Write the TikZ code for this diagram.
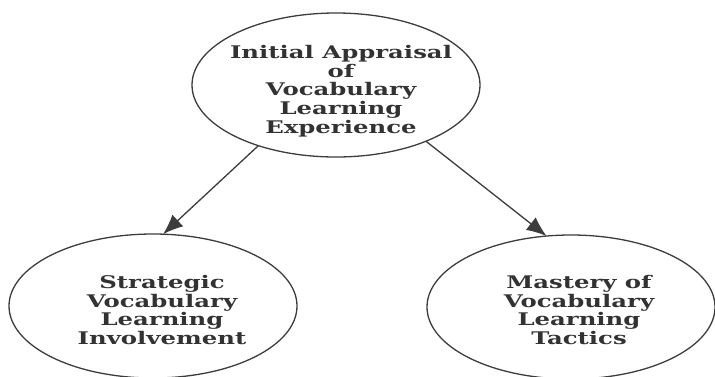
\documentclass[tikz,border=0pt]{standalone}
\usepackage{fontspec}
\setmainfont{DejaVu Serif}
\usetikzlibrary{shapes.geometric,arrows.meta}

\begin{document}
\begin{tikzpicture}
    [x=1pt,y=-1pt,>={Latex[length=20pt,width=16pt]}]

    \definecolor{lineC}{RGB}{60,60,60}
    \definecolor{textC}{RGB}{50,50,50}

    \tikzset{
        bubble/.style={draw=lineC,line width=1.3pt,ellipse,minimum width=288pt,minimum height=144pt,inner sep=0pt,outer sep=0pt},
        bubbletext/.style={align=center,text=textC,font=\bfseries\fontsize{17.4}{18.7}\selectfont,xscale=1.4,inner sep=0pt}
    }

    \useasboundingbox (0,0) rectangle (715,376);

    \coordinate (C1) at (336,85);
    \coordinate (C2) at (153,306);
    \coordinate (C3) at (571,307);

    \node[bubble] (appraisal) at (C1) {};
    \node[bubble] (strategic) at (C2) {};
    \node[bubble] (mastery) at (C3) {};

    \node[bubbletext] (appraisalText) at (341,91) {Initial Appraisal\\of\\Vocabulary\\Learning\\Experience};
    \node[bubbletext] (strategicText) at (162,310) {Strategic\\Vocabulary\\Learning\\Involvement};
    \node[bubbletext] (masteryText) at (579,310) {Mastery of\\Vocabulary\\Learning\\Tactics};

    \draw[->,lineC,line width=1.3pt] (appraisal.218) -- (strategic.82);
    \draw[->,lineC,line width=1.3pt] (appraisal.328) -- (mastery.109);

\end{tikzpicture}
\end{document}
